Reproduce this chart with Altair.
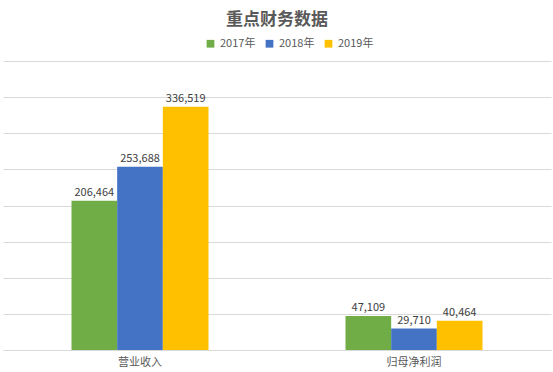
import altair as alt
import pandas as pd

categories = ["营业收入", "归母净利润"]
years = ["2017年", "2018年", "2019年"]
values_2017 = [206464, 47109]
values_2018 = [253688, 29710]
values_2019 = [336519, 40464]
colors = ["#70AD47", "#4472C4", "#FFC000"]

rows = []
for yr, vals in zip(years, [values_2017, values_2018, values_2019]):
    for c, v in zip(categories, vals):
        rows.append({"类别": c, "年份": yr, "值": v, "标签": f"{v:,}"})
df = pd.DataFrame(rows)

x = alt.X("类别:N", sort=categories, title=None,
          scale=alt.Scale(paddingInner=0.5, paddingOuter=0.25),
          axis=alt.Axis(labelAngle=0, ticks=False, domainColor="#d9d9d9",
                        labelFontSize=11, labelColor="#595959", labelPadding=6,
                        labelFont="Noto Sans CJK SC"))
xo = alt.XOffset("年份:N", sort=years)
y = alt.Y("值:Q", title=None,
          scale=alt.Scale(domain=[0, 400000], nice=False),
          axis=alt.Axis(labels=False, ticks=False, domain=False,
                        values=[0, 50000, 100000, 150000, 200000, 250000, 300000, 350000, 400000],
                        gridColor="#d9d9d9", gridWidth=1))

bars = alt.Chart(df).mark_bar().encode(
    x=x, xOffset=xo, y=y,
    color=alt.Color("年份:N", sort=years,
                    scale=alt.Scale(domain=years, range=colors),
                    legend=alt.Legend(title=None, orient="none", direction="horizontal",
                                      legendX=202, legendY=-23, symbolType="square",
                                      symbolSize=60, labelFontSize=11, labelColor="#595959",
                                      columnPadding=8, symbolStrokeWidth=0,
                                      labelFont="Noto Sans CJK SC")),
)

labels = alt.Chart(df).mark_text(dy=-8, fontSize=11, color="#404040",
                                 font="Noto Sans CJK SC").encode(
    x=x, xOffset=xo, y=y, text="标签:N"
)

chart = alt.layer(bars, labels).properties(
    width=548, height=289,
    title=alt.TitleParams("重点财务数据", fontSize=17, fontWeight="bold",
                          color="#595959", font="Noto Sans CJK SC",
                          anchor="middle", offset=9),
    autosize=alt.AutoSizeParams(type="none"),
    padding={"left": 3, "top": 61, "right": 2, "bottom": 22},
).configure_view(stroke=None)

chart.save("out.html", embed_options={"renderer": "svg", "actions": False})
